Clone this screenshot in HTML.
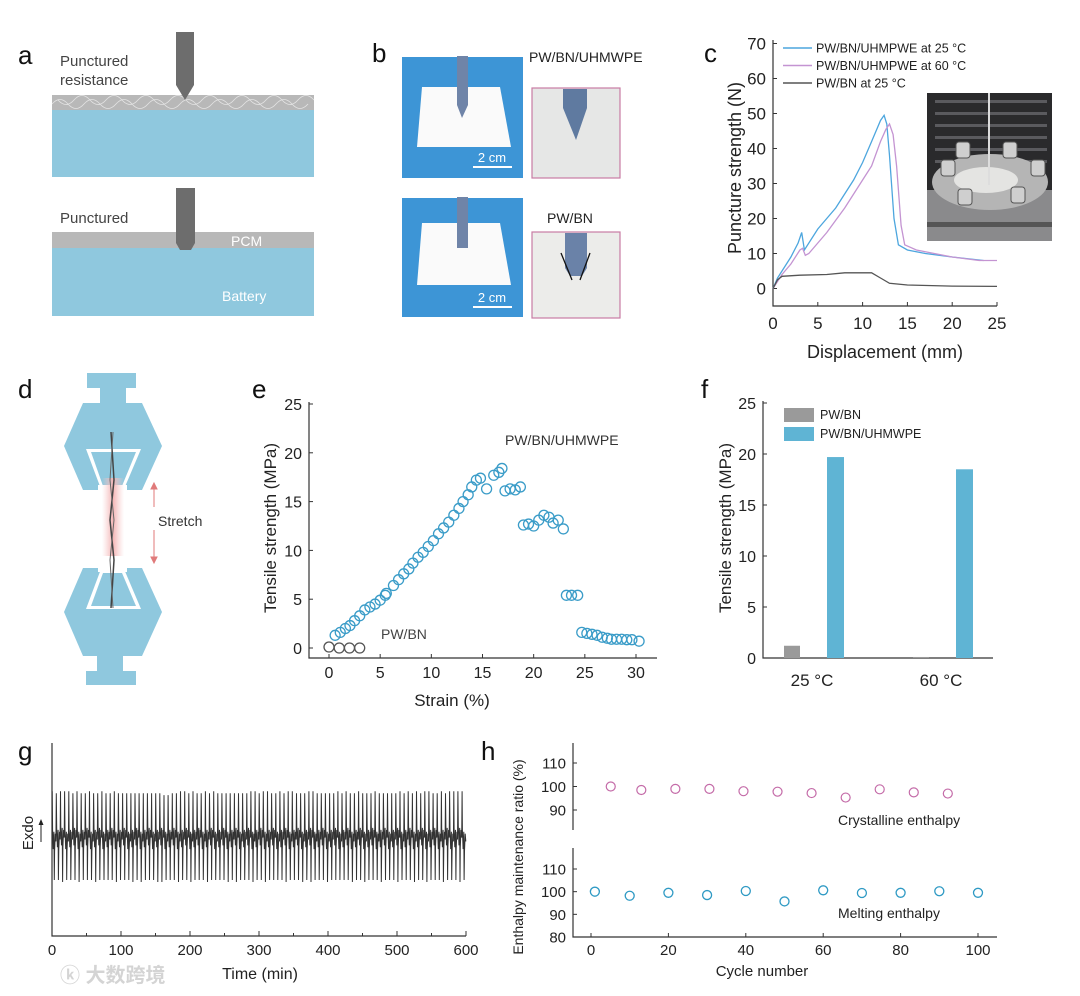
<!DOCTYPE html>
<html><head><meta charset="utf-8"><title>Figure</title>
<style>
html,body{margin:0;padding:0;background:#fff;}
svg{display:block;font-family:"Liberation Sans","Noto Sans CJK SC",sans-serif;}
</style></head>
<body>
<svg id="fig" width="1080" height="996" viewBox="0 0 1080 996" xmlns="http://www.w3.org/2000/svg">
<!-- panel letters -->
<g font-size="26" fill="#111">
<text x="18" y="64">a</text>
<text x="372" y="62">b</text>
<text x="704" y="62">c</text>
<text x="18" y="398">d</text>
<text x="252" y="398">e</text>
<text x="701" y="398">f</text>
<text x="18" y="760">g</text>
<text x="481" y="760">h</text>
</g>

<!-- Panel a -->
<g>
<text x="60" y="66" font-size="15" fill="#444">Punctured</text>
<text x="60" y="85" font-size="15" fill="#444">resistance</text>
<rect x="52" y="95" width="262" height="15" fill="#b8b8b8"/>
<path d="M52 104 q8 -9 16 0 t16 0 t16 0 t16 0 t16 0 t16 0 t16 0 t16 0 t16 0 t16 0 t16 0 t16 0 t16 0 t16 0 t16 0 t16 0 M58 100 q8 9 16 0 t16 0 t16 0 t16 0 t16 0 t16 0 t16 0 t16 0 t16 0 t16 0 t16 0 t16 0 t16 0 t16 0 t16 0 t16 0" fill="none" stroke="#e4e4e4" stroke-width="0.8"/>
<rect x="52" y="110" width="262" height="67" fill="#8fc8de"/>
<path d="M176 32 H194 V85 L185 100 L176 85 Z" fill="#6d6d6d"/>
<text x="60" y="223" font-size="15" fill="#444">Punctured</text>
<rect x="52" y="232" width="262" height="16" fill="#b8b8b8"/>
<rect x="52" y="248" width="262" height="68" fill="#8fc8de"/>
<path d="M176 188 H195 V243 L191 250 H180 L176 243 Z" fill="#6d6d6d"/>
<text x="231" y="246" font-size="14" fill="#fff">PCM</text>
<text x="222" y="301" font-size="14" fill="#fff">Battery</text>
</g>

<!-- Panel b -->
<g>
<text x="529" y="62" font-size="14" fill="#222">PW/BN/UHMWPE</text>
<text x="547" y="223" font-size="14" fill="#222">PW/BN</text>
<g>
<rect x="402" y="57" width="121" height="121" fill="#3d95d6"/>
<path d="M422 87 L500 87 L511 147 L417 147 Z" fill="#fafafa"/>
<path d="M457 56 H468 V105 L462 118 L457 105 Z" fill="#6f84a8"/>
<line x1="473" y1="167" x2="512" y2="167" stroke="#fff" stroke-width="2"/>
<text x="492" y="162" font-size="13" fill="#fff" text-anchor="middle">2 cm</text>
</g>
<g>
<rect x="402" y="198" width="121" height="119" fill="#3d95d6"/>
<path d="M422 223 L500 223 L511 285 L417 285 Z" fill="#fafafa"/>
<path d="M457 197 H468 V248 H457 Z" fill="#6f84a8"/>
<line x1="473" y1="307" x2="512" y2="307" stroke="#fff" stroke-width="2"/>
<text x="492" y="302" font-size="13" fill="#fff" text-anchor="middle">2 cm</text>
</g>
<g>
<rect x="532" y="88" width="88" height="90" fill="#e6e7e6" stroke="#c97ba4" stroke-width="1.2"/>
<path d="M563 89 H587 V108 L576 140 L563 108 Z" fill="#5f7aa0"/>
</g>
<g>
<rect x="532" y="232" width="88" height="86" fill="#ececea" stroke="#c97ba4" stroke-width="1.2"/>
<path d="M565 233 H587 V268 L582 276 H570 L565 268 Z" fill="#6a82a8"/>
<line x1="561" y1="253" x2="572" y2="280" stroke="#111" stroke-width="1.3"/>
<line x1="590" y1="253" x2="580" y2="280" stroke="#111" stroke-width="1.3"/>
</g>
</g>

<!-- Panel d -->
<g>
<defs><linearGradient id="glow" x1="0" x2="1"><stop offset="0" stop-color="#f6c8c8" stop-opacity="0"/><stop offset="0.5" stop-color="#f4b5b5"/><stop offset="1" stop-color="#f6c8c8" stop-opacity="0"/></linearGradient></defs>
<rect x="87" y="373" width="49" height="15" fill="#8fc8de"/>
<rect x="100" y="388" width="26" height="15" fill="#8fc8de"/>
<path d="M83 403 H142 L162 446 L142 490 H83 L64 446 Z" fill="#8fc8de"/>
<path d="M86 449 H141 L124 489 H101 Z" fill="#fff"/>
<path d="M91 452 H136 L122 486 H103 Z" fill="#8fc8de"/>
<rect x="98" y="485" width="29" height="6" fill="#fff"/>
<rect x="102" y="478" width="22" height="78" fill="url(#glow)"/>
<path d="M83 568 H142 L162 612 L142 656 H83 L64 612 Z" fill="#8fc8de"/>
<rect x="98" y="566" width="29" height="6" fill="#fff"/>
<path d="M101 569 H124 L141 609 H86 Z" fill="#fff"/>
<path d="M103 573 H122 L136 606 H91 Z" fill="#8fc8de"/>
<rect x="97" y="656" width="26" height="15" fill="#8fc8de"/>
<rect x="86" y="671" width="50" height="14" fill="#8fc8de"/>
<path d="M111 432 L114 480 L110 520 L114 560 L111 608" fill="none" stroke="#444" stroke-width="1.5"/>
<path d="M113 432 L110 480 L114 520 L110 560 L113 608" fill="none" stroke="#666" stroke-width="1" />
<g stroke="#e07a7a" fill="#e07a7a">
<line x1="154" y1="488" x2="154" y2="507"/><path d="M151 489 L154 483 L157 489Z"/>
<line x1="154" y1="530" x2="154" y2="558"/><path d="M151 557 L154 563 L157 557Z"/>
</g>
<text x="158" y="526" font-size="14" fill="#333">Stretch</text>
</g>

<g id="charts"></g>

<text x="60" y="982" font-size="20" fill="#d4d4d4" font-weight="bold">ⓚ 大数跨境</text>
</svg>

<script>
// ---------- Panel c data ----------
const cBlueX = [0,0.5,1,2,2.8,3.2,3.5,5,7,9,10,11,12,12.4,12.7,13,13.5,14,15,17,20,23.5];
const cBlueY = [0,3,5,9,13,16,11,17,23,31,36,42,48,49.5,47,38,20,12.5,11,10,9,8];
const cPurpX = [0,1,2,3,3.3,3.6,4,6,8,10,11,12,12.6,13,13.4,13.8,14.3,14.7,16,18,20,23,25];
const cPurpY = [0,4,7,11,11.5,9.5,10,16,23,31,35,42,45.5,47,44,35,18,12.5,11,10,9,8,8];
const cGrayX = [0,0.5,1,3,6,8,11,12,13,15,20,25];
const cGrayY = [0,2.5,3.5,3.8,4,4.5,4.5,3,1.5,1,0.7,0.6];
const cXTicks = [0,5,10,15,20,25];
const cYTicks = [0,10,20,30,40,50,60,70];
const cLegend = ["PW/BN/UHMPWE at 25 °C","PW/BN/UHMPWE at 60 °C","PW/BN at 25 °C"];

// ---------- Panel e data ----------
const eStrainU = [0.6,1.1,1.6,2.05,2.5,3.0,3.5,4.0,4.5,5.0,5.5,5.6,6.3,6.8,7.3,7.8,8.2,8.7,9.2,9.7,10.2,10.7,11.2,11.7,12.2,12.7,13.1,13.6,13.95,14.4,14.8,15.4,16.1,16.6,16.9,17.2,17.7,18.2,18.7,19.0,19.5,20.0,20.5,21.0,21.5,21.9,22.4,22.9,23.2,23.7,24.3,24.7,25.2,25.7,26.2,26.7,27.2,27.6,28.1,28.6,29.1,29.6,30.3];
const eStressU = [1.3,1.6,2.0,2.3,2.8,3.3,3.9,4.2,4.5,4.9,5.4,5.6,6.4,7.0,7.6,8.1,8.7,9.3,9.8,10.4,11.0,11.7,12.3,12.9,13.6,14.3,15.0,15.7,16.5,17.2,17.4,16.3,17.7,18.0,18.4,16.1,16.3,16.2,16.5,12.6,12.7,12.5,13.1,13.6,13.4,12.8,13.1,12.2,5.4,5.4,5.4,1.6,1.5,1.4,1.3,1.1,1.0,0.9,0.9,0.9,0.85,0.85,0.7];
const eStrainB = [0,1,2,3];
const eStressB = [0.1,0,0,0];
const eXTicks = [0,5,10,15,20,25,30];
const eYTicks = [0,5,10,15,20,25];

// ---------- Panel f data ----------
const fCategories = ["25 °C","60 °C"];
const fPWBN = [1.2,0.1];
const fUHMWPE = [19.7,18.5];
const fYTicks = [0,5,10,15,20,25];

// ---------- Panel g data (per-cycle peak levels, arbitrary units) ----------
const gTops = [75,74,75,75,75,74,75,74,74,75,74,74,75,74,74,75,74,74,74,74,74,74,74,74,74,74,74,73,73,74,74,75,75,74,75,74,74,75,74,75,74,74,74,74,74,74,74,74,75,75,74,75,75,74,74,75,74,75,75,74,74,74,75,75,74,74,74,74,74,75,74,75,74,74,75,74,74,74,75,74,74,74,74,74,75,74,75,74,75,74,75,75,74,74,75,74,75,75,75,75];
const gBottoms = [29,29,28,29,29,29,28,29,29,29,28,29,29,29,29,28,29,29,29,28,29,28,29,29,29,28,28,29,29,29,28,29,29,28,29,29,29,28,29,29,29,29,28,29,28,29,29,29,28,29,29,28,29,29,29,29,28,29,29,29,28,29,28,29,29,29,28,29,29,29,29,29,28,29,29,28,29,29,29,28,29,29,29,28,29,29,29,28,29,29,28,29,29,29,28,29,29,29,28,29];
const gXTicks = [0,100,200,300,400,500,600];
const gCycleMinutes = 6;

// ---------- Panel h data ----------
const hCrysCycle = [5.1,13,21.8,30.6,39.4,48.2,57,65.8,74.6,83.4,92.2];
const hCrysRatio = [100,98.5,99,99,98,97.8,97.2,95.3,98.8,97.5,97];
const hMeltCycle = [1,10,20,30,40,50,60,70,80,90,100];
const hMeltRatio = [100,98.2,99.5,98.5,100.3,95.7,100.6,99.4,99.5,100.2,99.5];
const hXTicks = [0,20,40,60,80,100];
const hTopTicks = [90,100,110];
const hBotTicks = [80,90,100,110];

const NS = "http://www.w3.org/2000/svg";
const root = document.getElementById("charts");
function mk(tag, attrs, parent) {
  const el = document.createElementNS(NS, tag);
  for (const k in attrs) el.setAttribute(k, attrs[k]);
  (parent || root).appendChild(el);
  return el;
}
function txt(x, y, s, size, anchor, parent, color) {
  const t = mk("text", {x: x, y: y, "font-size": size, "text-anchor": anchor || "middle", fill: color || "#222"}, parent);
  t.textContent = s;
  return t;
}
function lin(d0, d1, r0, r1) { return v => r0 + (v - d0) / (d1 - d0) * (r1 - r0); }
function pathFrom(xs, ys, sx, sy) { return xs.map((x, i) => (i ? "L" : "M") + sx(x).toFixed(1) + " " + sy(ys[i]).toFixed(1)).join(" "); }

// ===== Panel c =====
(function () {
  const g = mk("g", {});
  
  
  const sx = lin(0, 25, 773, 997), sy = lin(0, 70, 288.5, 43.5);
  const axes = mk("path", {d: "M773 40 V306 H997", fill: "none", stroke: "#333", "stroke-width": 1.2}, g);
  
  
  cXTicks.forEach(v => { mk("line", {x1: sx(v), x2: sx(v), y1: 306, y2: 302, stroke: "#333"}, g); txt(sx(v), 329, String(v), 17, "middle", g); });
  cYTicks.forEach(v => { mk("line", {x1: 773, x2: 777, y1: sy(v), y2: sy(v), stroke: "#333"}, g); txt(766, sy(v) + 6, String(v), 17, "end", g); });
  const yt = txt(0, 0, "Puncture strength (N)", 18, "middle", g);
  yt.setAttribute("transform", "translate(741 168) rotate(-90)");
  
  
  const xt = txt(885, 358, "Displacement (mm)", 18, "middle", g);
  
  
  // inset photo
  const ph = mk("g", {}, g);
  
  
  mk("rect", {x: 927, y: 93, width: 125, height: 148, fill: "#2a2a2c"}, ph);
  for (let i = 0; i < 6; i++) mk("rect", {x: 935, y: 100 + i * 12, width: 112, height: 3, fill: "#5a5a5e"}, ph);
  mk("rect", {x: 927, y: 190, width: 125, height: 51, fill: "#8a8a8c"}, ph);
  mk("ellipse", {cx: 990, cy: 182, rx: 58, ry: 28, fill: "#b5b5b5"}, ph);
  mk("ellipse", {cx: 986, cy: 180, rx: 32, ry: 13, fill: "#e4e4e2"}, ph);
  mk("line", {x1: 989, y1: 93, x2: 989, y2: 185, stroke: "#ddd", "stroke-width": 2}, ph);
  [[948, 168], [963, 150], [1010, 150], [1038, 168], [965, 197], [1018, 195]].forEach(p => mk("rect", {x: p[0] - 7, y: p[1] - 8, width: 14, height: 16, rx: 3, fill: "#cfcfcf", stroke: "#555"}, ph));
  mk("rect", {x: 927, y: 222, width: 125, height: 5, fill: "#555"}, ph);
  const series = [[cBlueX, cBlueY, "#4da6de"], [cPurpX, cPurpY, "#c494d2"], [cGrayX, cGrayY, "#555"]];
  series.forEach((s, i) => {
    const p = mk("path", {d: pathFrom(s[0], s[1], sx, sy), fill: "none", stroke: s[2], "stroke-width": 1.3}, g);
    
    
    const ly = 48 + i * 17.5;
    const ll = mk("line", {x1: 783, x2: 812, y1: ly, y2: ly, stroke: s[2], "stroke-width": 1.5}, g);
    
    
    const lt = txt(816, ly + 4.5, cLegend[i], 12.5, "start", g);
    
    
  });
})();

// ===== Panel e =====
(function () {
  const g = mk("g", {});
  
  
  const sx = lin(0, 30, 329, 636), sy = lin(0, 25, 648, 404);
  const ax = mk("path", {d: "M309 402 V658 H657", fill: "none", stroke: "#333", "stroke-width": 1.2}, g);
  
  
  eXTicks.forEach(v => { mk("line", {x1: sx(v), x2: sx(v), y1: 658, y2: 654, stroke: "#333"}, g); txt(sx(v), 678, String(v), 16, "middle", g); });
  eYTicks.forEach(v => { mk("line", {x1: 309, x2: 313, y1: sy(v), y2: sy(v), stroke: "#333"}, g); txt(302, sy(v) + 6, String(v), 16, "end", g); });
  const yt = txt(0, 0, "Tensile strength (MPa)", 17, "middle", g);
  yt.setAttribute("transform", "translate(276 528) rotate(-90)");
  
  
  const xt = txt(452, 706, "Strain (%)", 17, "middle", g);
  
  
  eStrainU.forEach((x, i) => {
    const c = mk("circle", {cx: sx(x), cy: sy(eStressU[i]), r: 5, fill: "none", stroke: "#3a9cc8", "stroke-width": 1.3}, g);
    
    
  });
  eStrainB.forEach((x, i) => {
    const c = mk("circle", {cx: sx(x), cy: sy(eStressB[i]), r: 5, fill: "none", stroke: "#555", "stroke-width": 1.3}, g);
    
    
  });
  const l1 = txt(505, 445, "PW/BN/UHMWPE", 14, "start", g, "#333");
  
  
  const l2 = txt(381, 639, "PW/BN", 14, "start", g, "#444");
  
  
})();

// ===== Panel f =====
(function () {
  const g = mk("g", {});
  
  
  const sy = lin(0, 25, 658, 403);
  const groupX = [792, 921], off = [0, 43], bw = 16;
  const ax = mk("path", {d: "M763 401 V658 H993", fill: "none", stroke: "#333", "stroke-width": 1.2}, g);
  
  
  fYTicks.forEach(v => { mk("line", {x1: 763, x2: 767, y1: sy(v), y2: sy(v), stroke: "#333"}, g); txt(756, sy(v) + 6, String(v), 16, "end", g); });
  fCategories.forEach((c, i) => {
    const b1 = mk("rect", {x: groupX[i] - bw / 2, y: sy(fPWBN[i]), width: bw, height: sy(0) - sy(fPWBN[i]), fill: "#9a9a9a"}, g);
    
    
    const b2 = mk("rect", {x: groupX[i] + off[1] - bw / 2, y: sy(fUHMWPE[i]), width: bw + 1, height: sy(0) - sy(fUHMWPE[i]), fill: "#5fb4d4"}, g);
    
    
    const t = txt(groupX[i] + 20, 686, c, 17, "middle", g);
    
    
  });
  const yt = txt(0, 0, "Tensile strength (MPa)", 17, "middle", g);
  yt.setAttribute("transform", "translate(731 528) rotate(-90)");
  
  
  mk("rect", {x: 784, y: 408, width: 30, height: 14, fill: "#9a9a9a"}, g);
  const lt1 = txt(820, 419, "PW/BN", 12.5, "start", g);
  
  
  mk("rect", {x: 784, y: 427, width: 30, height: 14, fill: "#5fb4d4"}, g);
  const lt2 = txt(820, 438, "PW/BN/UHMWPE", 12.5, "start", g);
  
  
})();

// ===== Panel g =====
(function () {
  const g = mk("g", {});
  
  
  const sx = lin(0, 600, 52, 466), sy = lin(0, 100, 936, 743);
  const ax = mk("path", {d: "M52 743 V936 H466", fill: "none", stroke: "#333", "stroke-width": 1.2}, g);
  
  
  gXTicks.forEach(v => { mk("line", {x1: sx(v), x2: sx(v), y1: 936, y2: 931, stroke: "#333"}, g); txt(sx(v), 955, String(v), 15, "middle", g); });
  gXTicks.slice(0, -1).forEach(v => mk("line", {x1: sx(v + 50), x2: sx(v + 50), y1: 936, y2: 933, stroke: "#333"}, g));
  let d = "M" + sx(0) + " " + sy(52);
  gTops.forEach((top, i) => {
    const t = i * gCycleMinutes;
    const mid = 50 + (i % 3) - 1;
    d += " L" + sx(t + 0.3).toFixed(1) + " " + sy(top).toFixed(1);
    d += " L" + sx(t + 0.8).toFixed(1) + " " + sy(mid + 6).toFixed(1);
    d += " L" + sx(t + 1.8).toFixed(1) + " " + sy(mid - 4).toFixed(1);
    d += " L" + sx(t + 2.8).toFixed(1) + " " + sy(mid + 5).toFixed(1);
    d += " L" + sx(t + 3.3).toFixed(1) + " " + sy(gBottoms[i]).toFixed(1);
    d += " L" + sx(t + 3.8).toFixed(1) + " " + sy(mid - 5).toFixed(1);
    d += " L" + sx(t + 4.8).toFixed(1) + " " + sy(mid + 4).toFixed(1);
    d += " L" + sx(t + 5.7).toFixed(1) + " " + sy(mid).toFixed(1);
  });
  const p = mk("path", {d: d, fill: "none", stroke: "#333", "stroke-width": 1}, g);
  
  
  const yt = txt(0, 0, "Exdo", 15, "middle", g);
  yt.setAttribute("transform", "translate(33 833) rotate(-90)");
  
  
  mk("line", {x1: 41, x2: 41, y1: 842, y2: 822, stroke: "#222"}, g);
  mk("path", {d: "M38.5 825 L41 819 L43.5 825 Z", fill: "#222"}, g);
  const xt = txt(260, 979, "Time (min)", 16, "middle", g);
  
  
})();

// ===== Panel h =====
(function () {
  const g = mk("g", {});
  
  
  const sx = lin(0, 100, 591, 978);
  const syT = lin(90, 110, 810, 763), syB = lin(80, 110, 937, 869);
  const a1 = mk("path", {d: "M573 743 V830", fill: "none", stroke: "#333", "stroke-width": 1.2}, g);
  
  
  const a2 = mk("path", {d: "M573 848 V937 H997", fill: "none", stroke: "#333", "stroke-width": 1.2}, g);
  
  
  hTopTicks.forEach(v => { mk("line", {x1: 573, x2: 577, y1: syT(v), y2: syT(v), stroke: "#333"}, g); txt(566, syT(v) + 5.5, String(v), 15, "end", g); });
  hBotTicks.forEach(v => { mk("line", {x1: 573, x2: 577, y1: syB(v), y2: syB(v), stroke: "#333"}, g); txt(566, syB(v) + 5.5, String(v), 15, "end", g); });
  hXTicks.forEach(v => { mk("line", {x1: sx(v), x2: sx(v), y1: 937, y2: 933, stroke: "#333"}, g); txt(sx(v), 955, String(v), 15, "middle", g); });
  hCrysCycle.forEach((x, i) => {
    const c = mk("circle", {cx: sx(x), cy: syT(hCrysRatio[i]), r: 4.5, fill: "none", stroke: "#c46ba8", "stroke-width": 1.2}, g);
    
    
  });
  hMeltCycle.forEach((x, i) => {
    const c = mk("circle", {cx: sx(x), cy: syB(hMeltRatio[i]), r: 4.5, fill: "none", stroke: "#2f9ac4", "stroke-width": 1.3}, g);
    
    
  });
  const l1 = txt(838, 825, "Crystalline enthalpy", 14, "start", g);
  
  
  const l2 = txt(838, 918, "Melting enthalpy", 14, "start", g);
  
  
  const yt = txt(0, 0, "Enthalpy maintenance ratio (%)", 14, "middle", g);
  yt.setAttribute("transform", "translate(523 857) rotate(-90)");
  
  
  const xt = txt(762, 976, "Cycle number", 15, "middle", g);
  
  
})();
</script>
</body></html>
